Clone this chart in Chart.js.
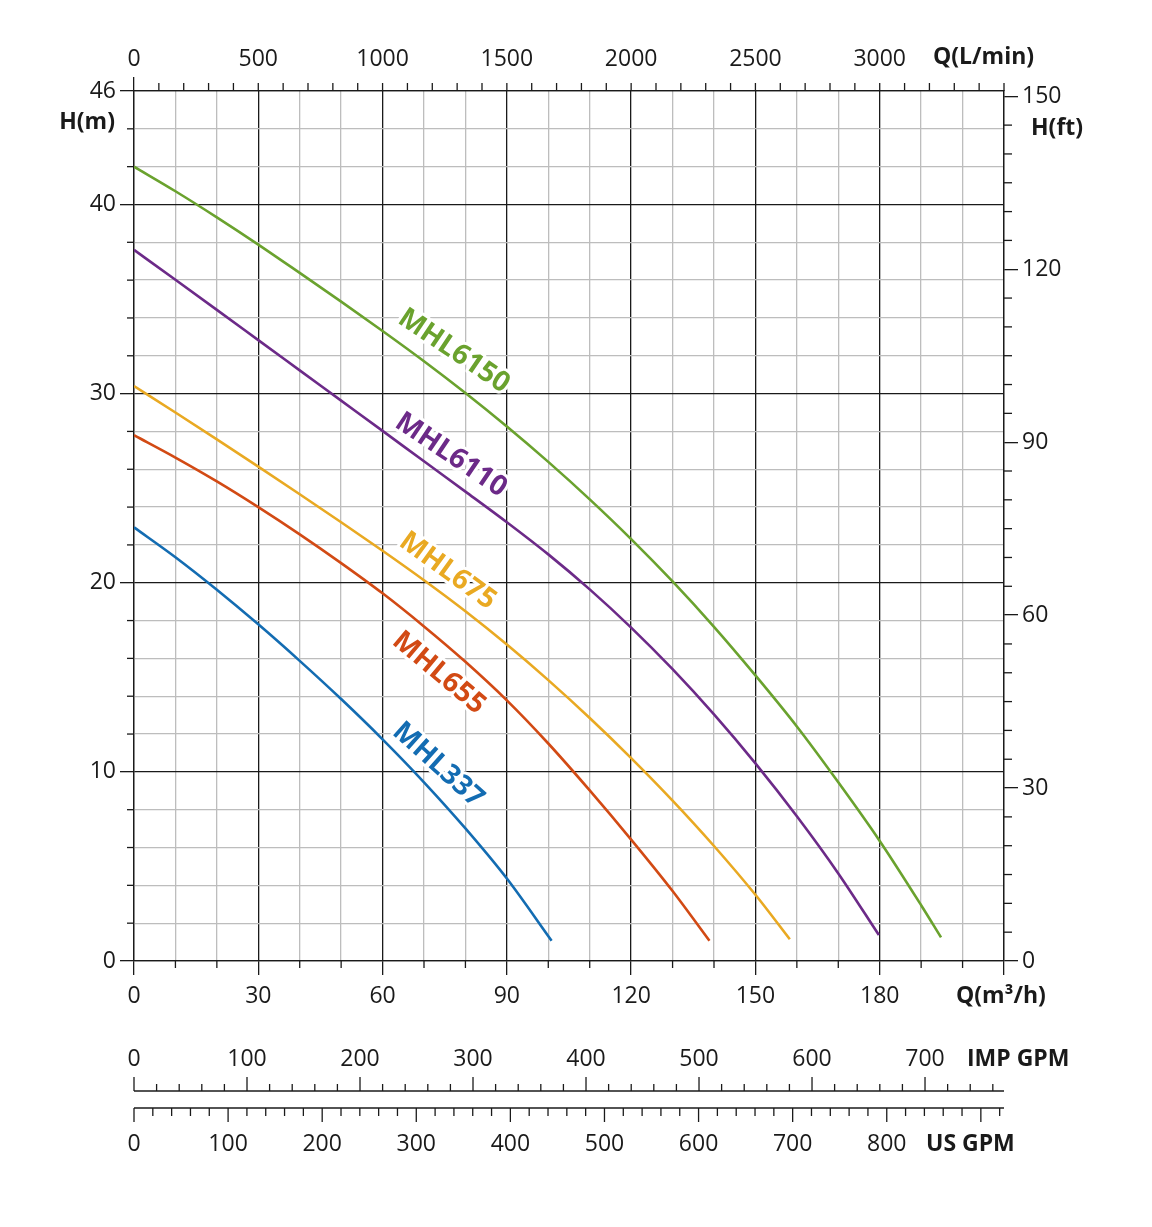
<!DOCTYPE html>
<html>
<head>
<meta charset="utf-8">
<script src="https://cdn.jsdelivr.net/npm/chart.js@4/dist/chart.umd.min.js"></script>
<style>
  html, body { margin: 0; padding: 0; background: #ffffff; }
  #wrap { width: 1152px; height: 1227px; }
  canvas { display: block; }
</style>
</head>
<body>
<div id="wrap"><canvas id="c" width="1152" height="1227"></canvas></div>
<script>
// ---------------- DATA ----------------
const seriesNames = ['MHL6150', 'MHL6110', 'MHL675', 'MHL655', 'MHL337'];

const q6150 = [0, 10, 20, 30, 40, 50, 60, 70, 80, 90, 100, 110, 120, 130, 140, 150, 160, 170, 180, 190, 194.8];
const h6150 = [42.0, 40.7, 39.32, 37.88, 36.38, 34.86, 33.31, 31.71, 30.03, 28.26, 26.39, 24.41, 22.31, 20.07, 17.67, 15.1, 12.4, 9.45, 6.35, 2.95, 1.25];

const q6110 = [0, 10, 20, 30, 40, 50, 60, 70, 80, 90, 100, 110, 120, 130, 140, 150, 160, 170, 179.8];
const h6110 = [37.6, 36.02, 34.43, 32.83, 31.23, 29.63, 28.03, 26.42, 24.82, 23.2, 21.5, 19.65, 17.63, 15.43, 13.04, 10.45, 7.65, 4.63, 1.37];

const q675 = [0, 10, 20, 30, 40, 50, 60, 70, 80, 90, 100, 110, 120, 130, 140, 150, 158.3];
const h675 = [30.4, 29.0, 27.58, 26.14, 24.68, 23.2, 21.69, 20.13, 18.49, 16.73, 14.85, 12.85, 10.73, 8.48, 6.08, 3.5, 1.15];

const q655 = [0, 10, 20, 30, 40, 50, 60, 70, 80, 90, 100, 110, 120, 130, 138.9];
const h655 = [27.8, 26.62, 25.36, 24.0, 22.56, 21.04, 19.44, 17.69, 15.82, 13.78, 11.5, 9.02, 6.42, 3.7, 1.07];

const q337 = [0, 10, 20, 30, 40, 50, 60, 70, 80, 90, 100.8];
const h337 = [22.93, 21.35, 19.63, 17.8, 15.87, 13.85, 11.72, 9.45, 7.01, 4.36, 1.07];

// tick labels
const flowTicksM3h  = [0, 30, 60, 90, 120, 150, 180];
const flowTicksLmin = [0, 500, 1000, 1500, 2000, 2500, 3000];
const headTicksM    = [0, 10, 20, 30, 40, 46];
const headTicksFt   = [0, 30, 60, 90, 120, 150];
const impTicks      = [0, 100, 200, 300, 400, 500, 600, 700];
const usTicks       = [0, 100, 200, 300, 400, 500, 600, 700, 800];

// unit conversions
const LMIN_PER_M3H = 1000 / 60;
const FT_PER_M = 3.28084;
const IMP_PER_M3H = 3.66615;
const US_PER_M3H = 4.40287;
const Q_MAX = 210;
const H_MAX = 46;

// ---------------- STYLE ----------------
const colors = ['#6aa22e', '#6c2a88', '#e9a922', '#d24a14', '#136cb2'];
const labelPlacement = [
  { q: 77.2, h: 32.25, angle: 34 },
  { q: 76.5, h: 26.75, angle: 34 },
  { q: 75.7, h: 20.62, angle: 36 },
  { q: 73.6, h: 15.23, angle: 40 },
  { q: 73.4, h: 10.36, angle: 42 }
];
const FONT = '"Open Sans", "Noto Sans", "DejaVu Sans", sans-serif';
const BLACK = '#1a1a1a';
const GRAY = '#bdbdbd';
const LW = 1.3;

const flows = [q6150, q6110, q675, q655, q337];
const heads = [h6150, h6110, h675, h655, h337];

const datasets = seriesNames.map((name, i) => ({
  label: name,
  data: flows[i].map((q, k) => ({ x: q, y: heads[i][k] })),
  borderColor: colors[i],
  borderWidth: 2.6,
  pointRadius: 0,
  fill: false,
  cubicInterpolationMode: 'monotone',
  xAxisID: 'x',
  yAxisID: 'y'
}));

const isMajX = v => v % 30 === 0 || v === Q_MAX;
const isMajY = v => v % 10 === 0 || v === H_MAX;
const isMajX2 = v => v % 500 === 0;
const isMajY2 = v => v % 30 === 0;
const tickCol = fn => c => (c.tick && fn(c.tick.value)) ? BLACK : 'rgba(0,0,0,0)';

function line(ctx, x1, y1, x2, y2) {
  ctx.beginPath(); ctx.moveTo(x1, y1); ctx.lineTo(x2, y2); ctx.stroke();
}

const extras = {
  id: 'extras',
  afterDatasetsDraw(chart) {
    const ctx = chart.ctx, xs = chart.scales.x, ys = chart.scales.y;
    ctx.save();
    ctx.font = 'bold 28px ' + FONT;
    ctx.textAlign = 'center';
    ctx.textBaseline = 'middle';
    ctx.lineJoin = 'round';
    seriesNames.forEach((name, i) => {
      const p = labelPlacement[i];
      ctx.save();
      ctx.translate(xs.getPixelForValue(p.q), ys.getPixelForValue(p.h));
      ctx.rotate(p.angle * Math.PI / 180);
      ctx.strokeStyle = '#ffffff';
      ctx.lineWidth = 6;
      ctx.strokeText(name, 0, 0);
      ctx.fillStyle = colors[i];
      ctx.fillText(name, 0, 0);
      ctx.restore();
    });
    ctx.restore();
  },
  afterDraw(chart) {
    const ctx = chart.ctx;
    const xs = chart.scales.x, ys = chart.scales.y, x2 = chart.scales.x2, y2 = chart.scales.y2;
    const a = chart.chartArea;
    ctx.save();
    ctx.strokeStyle = BLACK;
    ctx.fillStyle = BLACK;
    ctx.lineWidth = LW;
    // minor ticks on the four main axes
    xs.ticks.forEach(t => { if (!isMajX(t.value)) { const p = xs.getPixelForValue(t.value); line(ctx, p, a.bottom, p, a.bottom + 7); } });
    x2.ticks.forEach(t => { if (!isMajX2(t.value)) { const p = x2.getPixelForValue(t.value); line(ctx, p, a.top, p, a.top - 8); } });
    ys.ticks.forEach(t => { if (!isMajY(t.value)) { const p = ys.getPixelForValue(t.value); line(ctx, a.left, p, a.left - 7, p); } });
    y2.ticks.forEach(t => { if (!isMajY2(t.value)) { const p = y2.getPixelForValue(t.value); line(ctx, a.right, p, a.right + 8, p); } });

    // IMP GPM axis (labels above, ticks up)
    const impY = a.bottom + 130;
    line(ctx, a.left, impY, a.right, impY);
    for (let g = 0; g <= Q_MAX * IMP_PER_M3H; g += 20) {
      const p = xs.getPixelForValue(g / IMP_PER_M3H);
      line(ctx, p, impY, p, impY - (g % 100 === 0 ? 14 : 7));
    }
    // US GPM axis (labels below, ticks down)
    const usY = a.bottom + 147;
    line(ctx, a.left, usY, a.right, usY);
    for (let g = 0; g <= Q_MAX * US_PER_M3H; g += 20) {
      const p = xs.getPixelForValue(g / US_PER_M3H);
      line(ctx, p, usY, p, usY + (g % 100 === 0 ? 14 : 8));
    }
    ctx.font = '23px ' + FONT;
    ctx.textAlign = 'center';
    ctx.textBaseline = 'middle';
    impTicks.forEach(g => ctx.fillText(String(g), xs.getPixelForValue(g / IMP_PER_M3H), a.bottom + 98));
    usTicks.forEach(g => ctx.fillText(String(g), xs.getPixelForValue(g / US_PER_M3H), a.bottom + 183));

    // bold unit titles
    ctx.font = 'bold 23px ' + FONT;
    ctx.textAlign = 'left';
    ctx.fillText('IMP GPM', a.right - 37, a.bottom + 98);
    ctx.fillText('US GPM', a.right - 78, a.bottom + 183);
    ctx.fillText('Q(m³/h)', a.right - 48, a.bottom + 35);
    ctx.fillText('Q(L/min)', a.right - 71, a.top - 34);
    ctx.fillText('H(ft)', a.right + 27, a.top + 37);
    ctx.textAlign = 'right';
    ctx.fillText('H(m)', a.left - 19, a.top + 31);
    ctx.restore();
  }
};

function build() {
  new Chart(document.getElementById('c'), {
    type: 'line',
    data: { datasets },
    plugins: [extras],
    options: {
      responsive: false,
      animation: false,
      devicePixelRatio: 1,
      layout: { padding: 0 },
      plugins: { legend: { display: false }, tooltip: { enabled: false }, title: { display: false } },
      elements: { line: { borderCapStyle: 'butt' } },
      scales: {
        x: {
          type: 'linear', position: 'bottom', min: 0, max: Q_MAX,
          afterFit: s => { s.height = 266; },
          ticks: {
            stepSize: 10, autoSkip: false, maxRotation: 0, minRotation: 0, includeBounds: false,
            padding: 8, color: BLACK, font: { family: FONT, size: 23 },
            callback: v => flowTicksM3h.includes(v) ? String(v) : ''
          },
          grid: {
            color: c => (c.tick && isMajX(c.tick.value)) ? BLACK : GRAY,
            lineWidth: LW, tickLength: 14, tickWidth: LW, tickColor: tickCol(isMajX)
          },
          border: { display: true, color: BLACK, width: LW }
        },
        x2: {
          type: 'linear', position: 'top', min: 0, max: Q_MAX * LMIN_PER_M3H,
          afterFit: s => { s.height = 91; },
          ticks: {
            stepSize: 100, autoSkip: false, maxRotation: 0, minRotation: 0, includeBounds: false,
            padding: 4, color: BLACK, font: { family: FONT, size: 23 },
            callback: v => flowTicksLmin.includes(Math.round(v)) ? String(Math.round(v)) : ''
          },
          grid: {
            drawOnChartArea: false, lineWidth: LW, tickLength: 14, tickWidth: LW, tickColor: tickCol(isMajX2)
          },
          border: { display: true, color: BLACK, width: LW }
        },
        y: {
          type: 'linear', position: 'left', min: 0, max: H_MAX,
          afterFit: s => { s.width = 134; },
          ticks: {
            stepSize: 2, autoSkip: false, includeBounds: false,
            padding: 4, color: BLACK, font: { family: FONT, size: 23 },
            callback: v => headTicksM.includes(v) ? String(v) : ''
          },
          grid: {
            color: c => (c.tick && isMajY(c.tick.value)) ? BLACK : GRAY,
            lineWidth: LW, tickLength: 14, tickWidth: LW, tickColor: tickCol(isMajY)
          },
          border: { display: true, color: BLACK, width: LW }
        },
        y2: {
          type: 'linear', position: 'right', min: 0, max: H_MAX * FT_PER_M,
          afterFit: s => { s.width = 148; },
          ticks: {
            stepSize: 5, autoSkip: false, includeBounds: false,
            padding: 4, color: BLACK, font: { family: FONT, size: 23 },
            callback: v => headTicksFt.includes(Math.round(v)) ? String(Math.round(v)) : ''
          },
          grid: {
            drawOnChartArea: false, lineWidth: LW, tickLength: 14, tickWidth: LW, tickColor: tickCol(isMajY2)
          },
          border: { display: true, color: BLACK, width: LW }
        }
      }
    }
  });
}

if (document.fonts && document.fonts.load) {
  Promise.all([
    document.fonts.load('23px "Open Sans"'),
    document.fonts.load('bold 23px "Open Sans"')
  ]).then(build, build);
} else {
  build();
}
</script>
</body>
</html>
